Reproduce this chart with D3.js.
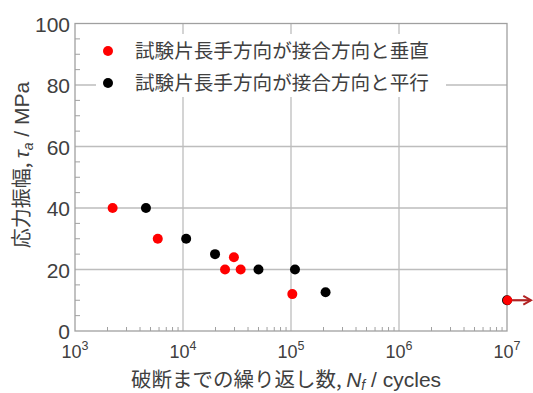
<!DOCTYPE html>
<html><head><meta charset="utf-8">
<script src="https://cdn.jsdelivr.net/npm/d3@7"></script>
<style>body{margin:0;background:#fff}svg{display:block}</style>
</head><body><svg id="c" width="533" height="393"></svg>
<script>
const xTicks = [1e3, 1e4, 1e5, 1e6, 1e7];
const xTickExp = ["3", "4", "5", "6", "7"];
const yTicks = [0, 20, 40, 60, 80, 100];
const seriesNames = ["試験片長手方向が接合方向と垂直", "試験片長手方向が接合方向と平行"];
const seriesColors = ["#ff0000", "#000000"];
const perpN = [2230, 5840, 24500, 29600, 34200, 102800];
const perpS = [40, 30, 20, 24, 20, 12];
const paraN = [4540, 10700, 19800, 50000, 108900, 209000, 1e7];
const paraS = [40, 30, 25, 20, 20, 12.6, 10];
const runoutN = [1e7];
const runoutS = [10];

const svg = d3.select("#c");
const x = d3.scaleLog().domain([1e3, 1e7]).range([75, 507]);
const y = d3.scaleLinear().domain([0, 100]).range([331, 23.5]);
const txt = "#404040", grid = "#bdbdbd", box = "#a0a0a0";
const latin = "Arial, 'Liberation Sans', sans-serif";
const cjk = "'Noto Sans CJK JP', sans-serif";

// gridlines
svg.append("g").selectAll("line").data(xTicks.slice(1, -1)).join("line")
  .attr("x1", d => x(d)).attr("x2", d => x(d)).attr("y1", y(0)).attr("y2", y(100))
  .attr("stroke", grid).attr("stroke-width", 1.3);
svg.append("g").selectAll("line").data(yTicks.slice(1, -1)).join("line")
  .attr("x1", x(1e3)).attr("x2", x(1e7)).attr("y1", d => y(d)).attr("y2", d => y(d))
  .attr("stroke", grid).attr("stroke-width", 1.3);

// minor ticks
const minorX = [];
for (let e = 3; e < 7; e++) for (let m = 2; m <= 9; m++) minorX.push(m * Math.pow(10, e));
svg.append("g").selectAll("line").data(minorX).join("line")
  .attr("x1", d => x(d)).attr("x2", d => x(d)).attr("y1", y(0)).attr("y2", y(0) - 4)
  .attr("stroke", box).attr("stroke-width", 1);
const minorY = d3.range(5, 100, 5).filter(v => v % 20 !== 0);
svg.append("g").selectAll("line").data(minorY).join("line")
  .attr("x1", x(1e3)).attr("x2", x(1e3) + 5).attr("y1", d => y(d)).attr("y2", d => y(d))
  .attr("stroke", box).attr("stroke-width", 1);

// box
svg.append("rect").attr("x", x(1e3)).attr("y", y(100))
  .attr("width", x(1e7) - x(1e3)).attr("height", y(0) - y(100))
  .attr("fill", "none").attr("stroke", box).attr("stroke-width", 1.3);

// y tick labels
svg.append("g").selectAll("text").data(yTicks).join("text")
  .attr("x", 70).attr("y", d => y(d) + 8).attr("text-anchor", "end")
  .attr("font-family", latin).attr("font-size", 21).attr("fill", txt).text(d => d);

// x tick labels
const xl = svg.append("g").selectAll("text").data(xTicks).join("text")
  .attr("x", d => x(d)).attr("y", 358).attr("text-anchor", "middle")
  .attr("font-family", latin).attr("font-size", 18).attr("fill", txt);
xl.append("tspan").text("10");
xl.append("tspan").attr("dy", -8).attr("font-size", 12.5).text((d, i) => xTickExp[i]);

// legend background
svg.append("rect").attr("x", 96).attr("y", 34).attr("width", 350).attr("height", 63).attr("fill", "#fff");
const lg = svg.append("g").selectAll("g").data(seriesNames).join("g")
  .attr("transform", (d, i) => `translate(108,${51 + i * 32})`);
lg.append("circle").attr("r", 5).attr("fill", (d, i) => seriesColors[i]);
lg.append("text").attr("x", 27).attr("y", 7).attr("font-family", cjk).attr("font-size", 19.6)
  .attr("fill", txt).text(d => d);

// arrow for run-out
const defs = svg.append("defs");
defs.append("marker").attr("id", "ah").attr("viewBox", "0 0 10 10").attr("refX", 8).attr("refY", 5)
  .attr("markerWidth", 5).attr("markerHeight", 5).attr("orient", "auto")
  .append("path").attr("d", "M1,1L8,5L1,9").attr("fill", "none").attr("stroke", "#b22222").attr("stroke-width", 1.8);
svg.append("g").selectAll("line").data(runoutN).join("line")
  .attr("x1", d => x(d) + 3).attr("x2", 531).attr("y1", (d, i) => y(runoutS[i])).attr("y2", (d, i) => y(runoutS[i]))
  .attr("stroke", "#b22222").attr("stroke-width", 2.2).attr("marker-end", "url(#ah)");

// points
svg.append("g").selectAll("circle").data(paraN).join("circle")
  .attr("cx", d => x(d)).attr("cy", (d, i) => y(paraS[i])).attr("r", 5).attr("fill", seriesColors[1]);
svg.append("g").selectAll("circle").data(perpN).join("circle")
  .attr("cx", d => x(d)).attr("cy", (d, i) => y(perpS[i])).attr("r", 5).attr("fill", seriesColors[0]);
svg.append("g").selectAll("circle").data(runoutN).join("circle")
  .attr("cx", d => x(d) + 0.5).attr("cy", (d, i) => y(runoutS[i])).attr("r", 4.7).attr("fill", seriesColors[0]);

// y title
const yt = svg.append("text").attr("transform", `translate(29,165) rotate(-90)`)
  .attr("text-anchor", "middle").attr("fill", txt).attr("font-size", 21).attr("font-family", latin);
yt.append("tspan").attr("font-family", cjk).attr("font-size", 20).text("応力振幅, ");
yt.append("tspan").attr("font-style", "italic").text("τ");
yt.append("tspan").attr("font-style", "italic").attr("font-size", 14).attr("dy", 4).text("a");
yt.append("tspan").attr("dy", -4).text(" / MPa");

// x title
const xt = svg.append("text").attr("x", 286).attr("y", 387).attr("text-anchor", "middle")
  .attr("fill", txt).attr("font-size", 21).attr("font-family", latin);
xt.append("tspan").attr("font-family", cjk).attr("font-size", 20.5).text("破断までの繰り返し数, ");
xt.append("tspan").attr("font-style", "italic").text("N");
xt.append("tspan").attr("font-style", "italic").attr("font-size", 14).attr("dy", 3).text("f");
xt.append("tspan").attr("dy", -3).text(" / cycles");
</script></body></html>
